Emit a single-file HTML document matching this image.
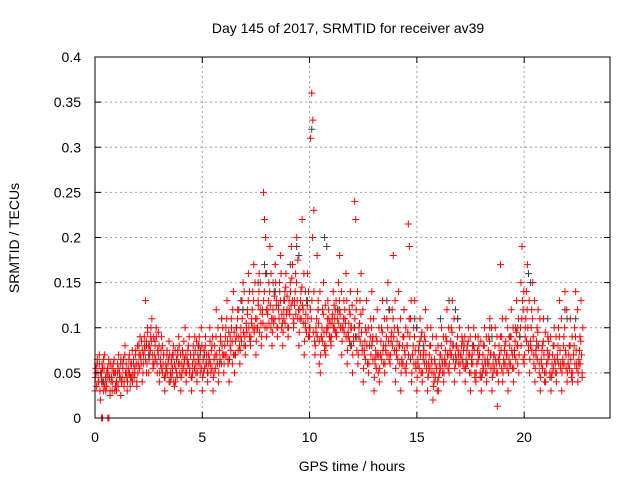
<!DOCTYPE html>
<html><head><meta charset="utf-8"><style>
body{margin:0;background:#fff;}
svg{display:block;font-family:"Liberation Sans",sans-serif;}
</style></head><body>
<svg id="chart" width="640" height="480">
<rect x="0" y="0" width="640" height="480" fill="#fff"/>
<g id="grid"></g>
<g id="pts"></g>
<rect x="95" y="57" width="515" height="361" fill="none" stroke="#000" stroke-width="1"/>
<g id="ticks"></g>
<text x="348" y="33" text-anchor="middle" font-size="14">Day 145 of 2017, SRMTID for receiver av39</text>
<text x="352" y="471" text-anchor="middle" font-size="14">GPS time / hours</text>
<text transform="translate(19,238) rotate(-90)" text-anchor="middle" font-size="14">SRMTID / TECUs</text>
</svg>
<script>
const xTicks=[0,5,10,15,20];
const yTicks=[0,0.05,0.1,0.15,0.2,0.25,0.3,0.35,0.4];
const yTickLabels=["0","0.05","0.1","0.15","0.2","0.25","0.3","0.35","0.4"];
const binTimes=[0,0.25,0.5,0.75,1,1.25,1.5,1.75,2,2.25,2.5,2.75,3,3.25,3.5,3.75,4,4.25,4.5,4.75,5,5.25,5.5,5.75,6,6.25,6.5,6.75,7,7.25,7.5,7.75,8,8.25,8.5,8.75,9,9.25,9.5,9.75,10,10.25,10.5,10.75,11,11.25,11.5,11.75,12,12.25,12.5,12.75,13,13.25,13.5,13.75,14,14.25,14.5,14.75,15,15.25,15.5,15.75,16,16.25,16.5,16.75,17,17.25,17.5,17.75,18,18.25,18.5,18.75,19,19.25,19.5,19.75,20,20.25,20.5,20.75,21,21.25,21.5,21.75,22,22.25,22.5];
const redValues=[
[.03,.05,.06,.04,.07],[.02,.04,.055,.065,.035],[.03,.05,.045,.06,.025],[.04,.03,.06,.05,.035],[.03,.05,.07,.045,.025],
[.04,.06,.035,.08,.05],[.03,.05,.07,.045,.06],[.04,.06,.05,.075,.035],[.05,.07,.09,.06,.04],[.06,.08,.13,.05,.1],
[.05,.07,.09,.11,.06],[.06,.08,.1,.05,.07],[.04,.06,.09,.05,.07],[.03,.05,.07,.06,.085],[.04,.06,.05,.08,.035],
[.04,.05,.07,.09,.06],[.03,.05,.07,.06,.1],[.04,.06,.08,.05,.07],[.03,.05,.07,.09,.06],[.04,.06,.08,.05,.1],
[.03,.05,.07,.09,.06],[.04,.06,.1,.05,.08],[.03,.05,.07,.12,.06],[.04,.06,.09,.11,.07],[.05,.07,.1,.13,.06],
[.04,.08,.11,.06,.14],[.05,.07,.1,.12,.09],[.06,.09,.13,.15,.08],[.07,.1,.12,.16,.09],[.08,.11,.14,.17,.1],
[.07,.1,.13,.16,.12],[.08,.12,.25,.22,.2],[.09,.12,.15,.19,.1],[.08,.11,.14,.17,.13],[.09,.12,.15,.18,.1],
[.08,.11,.14,.16,.12],[.09,.12,.15,.19,.13],[.1,.13,.16,.2,.11],[.08,.11,.14,.22,.12],[.07,.1,.13,.16,.09],
[.09,.31,.36,.33,.23],[.07,.1,.18,.13,.06],[.05,.09,.12,.15,.08],[.07,.1,.13,.11,.09],[.08,.11,.14,.1,.12],
[.09,.12,.15,.18,.1],[.07,.1,.13,.11,.16],[.06,.09,.12,.14,.1],[.05,.09,.24,.22,.13],[.06,.1,.13,.16,.08],
[.04,.07,.1,.13,.06],[.05,.08,.11,.14,.09],[.03,.06,.09,.12,.07],[.04,.07,.1,.13,.08],[.05,.08,.11,.15,.07],
[.06,.09,.12,.18,.1],[.04,.07,.1,.14,.08],[.03,.06,.09,.12,.07],[.05,.08,.215,.19,.11],[.04,.07,.1,.13,.06],
[.03,.06,.08,.11,.05],[.04,.07,.09,.12,.06],[.03,.05,.08,.1,.06],[.02,.04,.06,.09,.03],[.03,.05,.07,.1,.06],
[.04,.06,.09,.12,.07],[.05,.07,.1,.13,.08],[.04,.06,.08,.11,.07],[.05,.07,.09,.06,.08],[.04,.06,.08,.1,.07],
[.03,.06,.08,.1,.05],[.04,.06,.09,.07,.05],[.03,.05,.08,.1,.06],[.04,.06,.09,.11,.07],[.03,.05,.07,.1,.06],
[.013,.04,.07,.17,.09],[.04,.06,.08,.11,.07],[.03,.06,.09,.12,.07],[.04,.07,.1,.13,.08],[.05,.09,.15,.19,.12],
[.06,.1,.14,.17,.08],[.05,.08,.12,.15,.07],[.04,.07,.1,.12,.06],[.03,.06,.08,.11,.05],[.04,.06,.09,.07,.05],
[.03,.05,.08,.1,.06],[.04,.07,.1,.13,.06],[.03,.06,.09,.14,.07],[.04,.06,.08,.11,.05],[.04,.07,.1,.14,.06],
[.04,.06,.09,.13,.05]];
const redValues2=[
[.045,.055,.035,.065,.05,.04,.06,.03],[.05,.045,.06,.04,.03,.055,.07,.045],[.04,.035,.055,.05,.065,.045,.03,.06],[.045,.055,.04,.05,.065,.03,.05,.04],
[.04,.06,.035,.055,.05,.045,.065,.04],[.045,.055,.065,.04,.07,.05,.06,.045],[.04,.055,.065,.05,.035,.06,.045,.075],[.05,.065,.045,.055,.07,.06,.04,.08],
[.06,.08,.055,.07,.065,.085,.075,.05],[.07,.09,.075,.065,.085,.06,.095,.08],[.065,.08,.075,.1,.085,.07,.055,.09],[.07,.085,.065,.09,.06,.075,.095,.08],
[.05,.065,.075,.055,.08,.06,.07,.045],[.045,.06,.055,.075,.05,.065,.04,.07],[.05,.045,.065,.055,.07,.04,.06,.075],[.055,.065,.045,.075,.06,.08,.05,.07],
[.045,.06,.075,.055,.085,.065,.05,.07],[.05,.065,.075,.06,.09,.055,.07,.045],[.045,.06,.08,.065,.055,.075,.05,.085],[.05,.07,.065,.09,.06,.075,.055,.08],
[.045,.065,.075,.055,.08,.06,.07,.05],[.05,.07,.065,.085,.06,.075,.055,.09],[.045,.065,.08,.055,.09,.07,.06,.1],[.05,.075,.065,.085,.06,.08,.1,.07],
[.06,.08,.09,.07,.11,.085,.065,.095],[.065,.09,.075,.1,.085,.12,.07,.095],[.07,.085,.1,.09,.11,.075,.12,.08],[.075,.1,.085,.11,.12,.095,.14,.09],
[.08,.105,.095,.115,.13,.1,.14,.085],[.09,.105,.12,.1,.13,.095,.15,.11],[.085,.11,.1,.125,.14,.095,.15,.105],[.09,.115,.105,.13,.14,.1,.16,.12],
[.1,.115,.13,.105,.14,.125,.16,.11],[.095,.12,.105,.135,.11,.15,.125,.1],[.1,.125,.11,.14,.13,.16,.115,.105],[.095,.12,.13,.105,.145,.115,.135,.1],
[.1,.13,.115,.14,.125,.155,.17,.11],[.105,.125,.14,.115,.15,.13,.175,.12],[.095,.12,.13,.11,.145,.125,.105,.16],[.085,.105,.115,.095,.125,.11,.14,.1],
[.1,.12,.11,.13,.2,.095,.14,.085],[.08,.095,.11,.09,.12,.105,.085,.14],[.07,.09,.1,.085,.115,.095,.075,.125],[.08,.095,.11,.1,.12,.09,.105,.085],
[.09,.105,.115,.1,.125,.11,.095,.13],[.095,.11,.12,.105,.13,.115,.1,.14],[.085,.1,.11,.095,.12,.105,.09,.13],[.075,.095,.105,.085,.115,.1,.08,.125],
[.07,.085,.1,.11,.09,.12,.075,.14],[.07,.09,.105,.085,.115,.095,.075,.12],[.055,.075,.085,.065,.095,.08,.06,.1],[.06,.08,.09,.07,.1,.085,.065,.11],
[.045,.065,.075,.055,.085,.07,.05,.1],[.055,.07,.085,.065,.095,.075,.06,.11],[.06,.075,.09,.07,.1,.085,.065,.12],[.07,.085,.095,.08,.11,.09,.075,.13],
[.055,.075,.085,.065,.095,.08,.06,.11],[.05,.065,.08,.06,.09,.075,.055,.1],[.06,.08,.095,.07,.11,.09,.065,.13],[.05,.07,.08,.06,.09,.075,.055,.1],
[.045,.065,.075,.055,.085,.07,.05,.095],[.05,.065,.075,.06,.085,.07,.055,.1],[.045,.06,.07,.055,.08,.065,.05,.09],[.035,.05,.065,.045,.075,.055,.04,.08],
[.045,.06,.07,.055,.08,.065,.05,.09],[.05,.065,.075,.06,.085,.07,.055,.1],[.06,.075,.085,.07,.095,.08,.065,.11],[.055,.07,.08,.065,.09,.075,.06,.1],
[.06,.07,.08,.065,.085,.075,.055,.09],[.055,.065,.075,.06,.085,.07,.05,.09],[.05,.065,.07,.06,.08,.075,.045,.09],[.05,.06,.075,.065,.08,.07,.045,.085],
[.045,.06,.07,.055,.08,.065,.05,.09],[.05,.065,.075,.06,.085,.07,.055,.1],[.045,.06,.07,.055,.08,.065,.05,.09],[.05,.065,.08,.06,.09,.075,.055,.11],
[.05,.065,.075,.06,.085,.07,.055,.1],[.05,.065,.08,.06,.09,.075,.055,.1],[.055,.075,.085,.065,.095,.08,.06,.11],[.07,.09,.1,.08,.11,.13,.065,.14],
[.07,.09,.11,.085,.12,.1,.075,.13],[.065,.085,.1,.075,.11,.09,.06,.13],[.055,.075,.085,.065,.095,.08,.05,.11],[.045,.065,.075,.055,.085,.07,.04,.095],
[.05,.06,.075,.065,.085,.07,.045,.09],[.045,.06,.07,.055,.08,.065,.05,.09],[.05,.065,.08,.06,.09,.075,.055,.11],[.05,.065,.08,.06,.1,.075,.055,.12],
[.05,.06,.07,.055,.08,.065,.045,.09],[.05,.07,.08,.06,.09,.075,.055,.12],[.05,.065,.075,.06,.085,.07,.045,.1]];
const grayTimes=[0.3,1.2,2.4,3.6,4.8,5.9,6.8,7.6,8.3,9.1,9.8,10.1,10.7,11.4,12.1,12.9,13.6,14.4,15.2,16.1,16.8,17.6,18.4,19.3,20.2,21.1,21.9,22.4,7.9,8.8,9.4,10.4,11.8,13.1,14.9,16.5,19.7,20.6];
const grayValues=[.05,.06,.08,.07,.08,.11,.13,.15,.15,.17,.14,.32,.2,.12,.1,.08,.13,.12,.09,.11,.12,.08,.1,.09,.16,.11,.12,.11,.17,.13,.19,.12,.09,.07,.11,.13,.1,.08];
const zeroTimes=[0.3,0.35,0.6,0.65];
const zeroValues=[0,0,0,0];

const X0=95,X1=610,Y0=418,Y1=57;
const xs=t=>X0+(t/24)*(X1-X0);
const ys=v=>Y0-(v/0.4)*(Y0-Y1);
const NS="http://www.w3.org/2000/svg";
const grid=document.getElementById('grid'),ticks=document.getElementById('ticks'),pts=document.getElementById('pts');
function mk(tag,attrs,parent){const e=document.createElementNS(NS,tag);for(const k in attrs)e.setAttribute(k,attrs[k]);parent.appendChild(e);return e;}
xTicks.forEach((t,i)=>{
 const x=xs(t);
 if(i>0){const g=mk('line',{x1:x,y1:Y0,x2:x,y2:Y1,stroke:'#a0a0a0','stroke-dasharray':'2,3'},grid);
 
 }
 mk('line',{x1:x,y1:Y0,x2:x,y2:Y0-6,stroke:'#000'},ticks);
 mk('line',{x1:x,y1:Y1,x2:x,y2:Y1+6,stroke:'#000'},ticks);
 const l=mk('text',{x:x,y:Y0+24,'text-anchor':'middle','font-size':'14'},ticks);
 l.textContent=String(t);
 
 
});
yTicks.forEach((v,i)=>{
 const y=ys(v);
 if(i>0&&i<yTicks.length-1){const g=mk('line',{x1:X0,y1:y,x2:X1,y2:y,stroke:'#a0a0a0','stroke-dasharray':'2,3'},grid);
 
 }
 mk('line',{x1:X0,y1:y,x2:X0+6,y2:y,stroke:'#000'},ticks);
 mk('line',{x1:X1,y1:y,x2:X1-6,y2:y,stroke:'#000'},ticks);
 const l=mk('text',{x:X0-14,y:y+5,'text-anchor':'end','font-size':'14'},ticks);
 l.textContent=yTickLabels[i];
 
 
});
function plus(t,v,color,name){
 const x=xs(t),y=ys(v);
 const p=mk('path',{d:`M${x-3.5},${y}h7M${x},${y-3.5}v7`,stroke:color,'stroke-width':'1',fill:'none'},pts);
 
 
}
grayTimes.forEach((t,i)=>plus(t,grayValues[i],'#404040','gray-point'));
binTimes.forEach((t,i)=>{
 const vals=redValues[i];
 vals.forEach((v,j)=>plus(t+j*0.25/vals.length,v,'#ff0000','red-point'));
 const vals2=redValues2[i];
 vals2.forEach((v,j)=>plus(t+0.015+j*0.25/vals2.length,v,'#ff0000','red-point'));
});
grayTimes.forEach((t,i)=>{ if(i%2===0) plus(t+0.1,grayValues[i]-0.01,'#404040','gray-point'); });
zeroTimes.forEach((t,i)=>plus(t,zeroValues[i],'#ff0000','zero-point'));
</script>
</body></html>
